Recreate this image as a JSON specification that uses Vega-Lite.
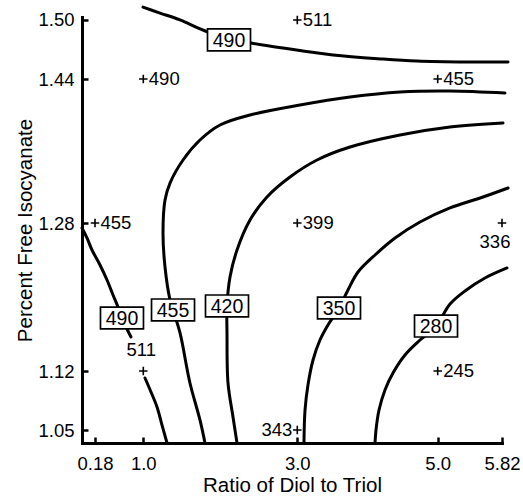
{
  "$schema": "https://vega.github.io/schema/vega-lite/v6.json",
  "width": 420,
  "height": 426,
  "autosize": {"type": "none"},
  "padding": {"left": 82, "top": 17, "right": 21, "bottom": 53},
  "background": "white",
  "config": {
    "view": {"stroke": null},
    "font": "Liberation Sans",
    "axis": {
      "grid": false,
      "domainColor": "black",
      "domainWidth": 3,
      "domainCap": "square",
      "tickColor": "black",
      "tickWidth": 2.5,
      "tickSize": -6,
      "labelFont": "Liberation Sans",
      "labelFontSize": 18.5,
      "labelColor": "black",
      "titleFont": "Liberation Sans",
      "titleFontSize": 20.5,
      "titleFontWeight": "normal",
      "titleColor": "black"
    }
  },
  "datasets": {
    "contours": [
      {"curve": "490 upper", "k": 1, "x": 0.995, "y": 1.513},
      {"curve": "490 upper", "k": 2, "x": 1.217, "y": 1.507},
      {"curve": "490 upper", "k": 3, "x": 1.477, "y": 1.5},
      {"curve": "490 upper", "k": 4, "x": 1.84, "y": 1.4878},
      {"curve": "490 upper", "k": 5, "x": 2.399, "y": 1.4766},
      {"curve": "490 upper", "k": 6, "x": 2.814, "y": 1.4715},
      {"curve": "490 upper", "k": 7, "x": 3.509, "y": 1.4644},
      {"curve": "490 upper", "k": 8, "x": 4.221, "y": 1.4603},
      {"curve": "490 upper", "k": 9, "x": 4.705, "y": 1.4583},
      {"curve": "490 upper", "k": 10, "x": 5.374, "y": 1.4573},
      {"curve": "490 upper", "k": 11, "x": 5.897, "y": 1.4573},

      {"curve": "455", "k": 1, "x": 5.858, "y": 1.4244},
      {"curve": "455", "k": 2, "x": 5.157, "y": 1.4267},
      {"curve": "455", "k": 3, "x": 4.463, "y": 1.4256},
      {"curve": "455", "k": 4, "x": 3.751, "y": 1.42},
      {"curve": "455", "k": 5, "x": 3.038, "y": 1.4111},
      {"curve": "455", "k": 6, "x": 2.386, "y": 1.4},
      {"curve": "455", "k": 7, "x": 1.996, "y": 1.3889},
      {"curve": "455", "k": 8, "x": 1.736, "y": 1.3722},
      {"curve": "455", "k": 9, "x": 1.516, "y": 1.35},
      {"curve": "455", "k": 10, "x": 1.347, "y": 1.3244},
      {"curve": "455", "k": 11, "x": 1.282, "y": 1.3056},
      {"curve": "455", "k": 12, "x": 1.256, "y": 1.2692},
      {"curve": "455", "k": 13, "x": 1.282, "y": 1.2324},
      {"curve": "455", "k": 14, "x": 1.347, "y": 1.1968},
      {"curve": "455", "k": 15, "x": 1.386, "y": 1.186},
      {"curve": "455", "k": 16, "x": 1.477, "y": 1.1611},
      {"curve": "455", "k": 17, "x": 1.606, "y": 1.1058},
      {"curve": "455", "k": 18, "x": 1.736, "y": 1.0619},
      {"curve": "455", "k": 19, "x": 1.801, "y": 1.0346},

      {"curve": "420", "k": 1, "x": 5.833, "y": 1.3911},
      {"curve": "420", "k": 2, "x": 5.157, "y": 1.3867},
      {"curve": "420", "k": 3, "x": 4.463, "y": 1.3778},
      {"curve": "420", "k": 4, "x": 3.751, "y": 1.3644},
      {"curve": "420", "k": 5, "x": 3.281, "y": 1.35},
      {"curve": "420", "k": 6, "x": 2.905, "y": 1.3311},
      {"curve": "420", "k": 7, "x": 2.606, "y": 1.3089},
      {"curve": "420", "k": 8, "x": 2.386, "y": 1.2833},
      {"curve": "420", "k": 9, "x": 2.217, "y": 1.2508},
      {"curve": "420", "k": 10, "x": 2.126, "y": 1.2216},
      {"curve": "420", "k": 11, "x": 2.087, "y": 1.1903},
      {"curve": "420", "k": 12, "x": 2.087, "y": 1.1611},
      {"curve": "420", "k": 13, "x": 2.1, "y": 1.1058},
      {"curve": "420", "k": 14, "x": 2.165, "y": 1.0654},
      {"curve": "420", "k": 15, "x": 2.217, "y": 1.0346},

      {"curve": "350", "k": 1, "x": 5.897, "y": 1.3189},
      {"curve": "350", "k": 2, "x": 5.578, "y": 1.3089},
      {"curve": "350", "k": 3, "x": 5.157, "y": 1.2967},
      {"curve": "350", "k": 4, "x": 4.748, "y": 1.2811},
      {"curve": "350", "k": 5, "x": 4.392, "y": 1.2638},
      {"curve": "350", "k": 6, "x": 4.107, "y": 1.2454},
      {"curve": "350", "k": 7, "x": 3.865, "y": 1.227},
      {"curve": "350", "k": 8, "x": 3.722, "y": 1.2076},
      {"curve": "350", "k": 9, "x": 3.594, "y": 1.1881},
      {"curve": "350", "k": 10, "x": 3.437, "y": 1.1697},
      {"curve": "350", "k": 11, "x": 3.323, "y": 1.1535},
      {"curve": "350", "k": 12, "x": 3.224, "y": 1.1319},
      {"curve": "350", "k": 13, "x": 3.152, "y": 1.1034},
      {"curve": "350", "k": 14, "x": 3.11, "y": 1.0737},
      {"curve": "350", "k": 15, "x": 3.095, "y": 1.0346},

      {"curve": "280", "k": 1, "x": 5.884, "y": 1.2314},
      {"curve": "280", "k": 2, "x": 5.603, "y": 1.2205},
      {"curve": "280", "k": 3, "x": 5.348, "y": 1.2065},
      {"curve": "280", "k": 4, "x": 5.157, "y": 1.1924},
      {"curve": "280", "k": 5, "x": 4.976, "y": 1.1686},
      {"curve": "280", "k": 6, "x": 4.748, "y": 1.1535},
      {"curve": "280", "k": 7, "x": 4.534, "y": 1.1373},
      {"curve": "280", "k": 8, "x": 4.363, "y": 1.1176},
      {"curve": "280", "k": 9, "x": 4.249, "y": 1.0975},
      {"curve": "280", "k": 10, "x": 4.164, "y": 1.0737},
      {"curve": "280", "k": 11, "x": 4.121, "y": 1.05},
      {"curve": "280", "k": 12, "x": 4.107, "y": 1.0346},

      {"curve": "490 left, upper part", "k": 1, "x": 0, "y": 1.2746},
      {"curve": "490 left, upper part", "k": 2, "x": 0.069, "y": 1.2638},
      {"curve": "490 left, upper part", "k": 3, "x": 0.1385, "y": 1.2508},
      {"curve": "490 left, upper part", "k": 4, "x": 0.265, "y": 1.2346},
      {"curve": "490 left, upper part", "k": 5, "x": 0.384, "y": 1.2184},
      {"curve": "490 left, upper part", "k": 6, "x": 0.486, "y": 1.2022},
      {"curve": "490 left, upper part", "k": 7, "x": 0.57, "y": 1.1892},
      {"curve": "490 left, upper part", "k": 8, "x": 0.638, "y": 1.1773},
      {"curve": "490 left, upper part", "k": 9, "x": 0.723, "y": 1.1654},
      {"curve": "490 left, upper part", "k": 10, "x": 0.791, "y": 1.1568},

      {"curve": "490 left, lower part", "k": 1, "x": 1.022, "y": 1.1117},
      {"curve": "490 left, lower part", "k": 2, "x": 1.1, "y": 1.0951},
      {"curve": "490 left, lower part", "k": 3, "x": 1.178, "y": 1.0773},
      {"curve": "490 left, lower part", "k": 4, "x": 1.243, "y": 1.0559},
      {"curve": "490 left, lower part", "k": 5, "x": 1.308, "y": 1.0346}
    ],
    "contourLabels": [
      {"level": 490, "x": 2.113, "y": 1.4797},
      {"level": 490, "x": 0.638, "y": 1.1773},
      {"level": 455, "x": 1.386, "y": 1.186},
      {"level": 420, "x": 2.087, "y": 1.1903},
      {"level": 350, "x": 3.594, "y": 1.1881},
      {"level": 280, "x": 4.976, "y": 1.1686}
    ],
    "designPoints": [
      {"x": 3, "y": 1.5, "value": 511},
      {"x": 1, "y": 1.44, "value": 490},
      {"x": 5, "y": 1.44, "value": 455},
      {"x": 0.18, "y": 1.28, "value": 455},
      {"x": 3, "y": 1.28, "value": 399},
      {"x": 5.82, "y": 1.28, "value": 336},
      {"x": 1, "y": 1.12, "value": 511},
      {"x": 5, "y": 1.12, "value": 245},
      {"x": 3, "y": 1.05, "value": 343}
    ]
  },
  "encoding": {
    "x": {
      "field": "x",
      "type": "quantitative",
      "scale": {
        "domain": [0, 0.18, 1, 3, 5, 5.82],
        "range": [0, 13, 61.3, 215.3, 355.7, 420],
        "nice": false,
        "zero": false
      },
      "axis": {
        "title": "Ratio of Diol to Triol",
        "values": [0.18, 1, 3, 5, 5.82],
        "labelExpr": "datum.value == 0.18 || datum.value == 5.82 ? format(datum.value, '.2f') : format(datum.value, '.1f')",
        "labelPadding": 17,
        "labelFlush": false,
        "titleY": 48.7,
        "titleBaseline": "alphabetic"
      }
    },
    "y": {
      "field": "y",
      "type": "quantitative",
      "scale": {
        "domain": [1.0346, 1.05, 1.12, 1.28, 1.44, 1.503],
        "range": [426, 413, 354, 206, 62, 0],
        "nice": false,
        "zero": false
      },
      "axis": {
        "title": "Percent Free Isocyanate",
        "values": [1.05, 1.12, 1.28, 1.44, 1.5],
        "format": ".2f",
        "labelPadding": 14,
        "labelFlush": false,
        "titleX": -50.5,
        "titleY": 213,
        "titleAngle": -90,
        "titleAlign": "center",
        "titleBaseline": "alphabetic"
      }
    }
  },
  "layer": [
    {
      "data": {"name": "contours"},
      "mark": {"type": "line", "interpolate": "catmull-rom", "color": "black", "strokeWidth": 3, "strokeCap": "round"},
      "encoding": {
        "detail": {"field": "curve", "type": "nominal"},
        "order": {"field": "k", "type": "quantitative"}
      }
    },
    {
      "data": {"name": "contourLabels"},
      "mark": {
        "type": "point",
        "shape": "M-1,-0.51H1V0.51H-1Z",
        "size": 1849,
        "filled": true,
        "fill": "white",
        "fillOpacity": 1,
        "stroke": "black",
        "strokeWidth": 1.7,
        "strokeOpacity": 1
      }
    },
    {
      "data": {"name": "contourLabels"},
      "mark": {"type": "text", "font": "Liberation Sans", "fontSize": 19.5, "color": "black", "align": "center", "baseline": "middle", "dy": 1},
      "encoding": {"text": {"field": "level", "type": "quantitative"}}
    },
    {
      "data": {"name": "designPoints"},
      "mark": {"type": "point", "shape": "M-1,0H1M0,-1V1", "size": 72, "filled": false, "stroke": "black", "strokeWidth": 1.6, "opacity": 1}
    },
    {
      "data": {"name": "designPoints"},
      "transform": [{"filter": "!(datum.x == 3 && datum.y == 1.05) && !(datum.x == 1 && datum.y == 1.12) && datum.x != 5.82"}],
      "mark": {"type": "text", "font": "Liberation Sans", "fontSize": 18.5, "color": "black", "align": "left", "baseline": "middle", "dx": 5.5},
      "encoding": {"text": {"field": "value", "type": "quantitative"}}
    },
    {
      "data": {"name": "designPoints"},
      "transform": [{"filter": "datum.x == 3 && datum.y == 1.05"}],
      "mark": {"type": "text", "font": "Liberation Sans", "fontSize": 18.5, "color": "black", "align": "right", "baseline": "middle", "dx": -5},
      "encoding": {"text": {"field": "value", "type": "quantitative"}}
    },
    {
      "data": {"name": "designPoints"},
      "transform": [{"filter": "datum.x == 1 && datum.y == 1.12"}],
      "mark": {"type": "text", "font": "Liberation Sans", "fontSize": 18.5, "color": "black", "align": "center", "baseline": "middle", "dx": -2, "dy": -21},
      "encoding": {"text": {"field": "value", "type": "quantitative"}}
    },
    {
      "data": {"name": "designPoints"},
      "transform": [{"filter": "datum.x == 5.82"}],
      "mark": {"type": "text", "font": "Liberation Sans", "fontSize": 18.5, "color": "black", "align": "center", "baseline": "middle", "dx": -7, "dy": 19},
      "encoding": {"text": {"field": "value", "type": "quantitative"}}
    }
  ]
}
